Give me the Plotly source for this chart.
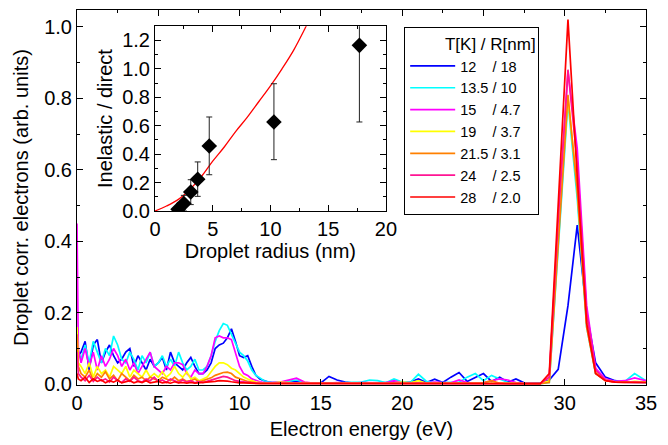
import plotly.graph_objects as go

FONT = "Arial, Liberation Sans, sans-serif"

# ---------------- main spectra (shared energy grid, eV) ----------------
energy = [
    0, 0.08, 0.25, 0.5, 0.75, 1.0, 1.25, 1.5, 1.75, 2.0, 2.25, 2.5, 2.75, 3.0, 3.25, 3.5, 3.75, 4.0, 4.25, 4.5, 4.75,
    5.0, 5.25, 5.5, 5.75, 6.0, 6.25, 6.5, 6.75, 7.0, 7.25, 7.5, 7.75, 8.0, 8.25, 8.5, 8.75, 9.0, 9.25, 9.5, 9.75,
    10.0, 10.25, 10.5, 10.75, 11.0, 11.25, 11.5, 11.75, 12.0,
    12.5, 13.0, 13.5, 14.0, 14.5, 15.0, 15.5, 16.0, 16.5, 17.0, 17.5, 18.0, 18.5, 19.0, 19.5, 20.0,
    20.5, 21.0, 21.5, 22.0, 22.5, 23.0, 23.5, 24.0, 24.5, 25.0, 25.5, 26.0, 26.5, 27.0, 27.5, 28.0,
    28.5, 29.05, 29.6, 30.2, 30.77, 31.35, 31.9, 32.5, 33.1, 33.7, 34.3, 35.0,
]

s_12K = [
    0.07, 0.08, 0.09, 0.12, 0.04, 0.11, 0.125, 0.06, 0.09, 0.11, 0.08, 0.06, 0.07, 0.09, 0.10, 0.05, 0.08, 0.06, 0.04, 0.07, 0.05,
    0.06, 0.075, 0.04, 0.09, 0.06, 0.05, 0.04, 0.06, 0.075, 0.05, 0.03, 0.03, 0.04, 0.06, 0.10, 0.11, 0.115, 0.13, 0.155, 0.12,
    0.08, 0.075, 0.08, 0.05, 0.025, 0.015, 0.01, 0.006, 0.005,
    0.004, 0.005, 0.008, 0.004, 0.003, 0.004, 0.022, 0.012, 0.006, 0.003, 0.004, 0.003, 0.004, 0.005, 0.006, 0.004,
    0.006, 0.015, 0.005, 0.014, 0.005, 0.02, 0.033, 0.008, 0.02, 0.03, 0.008, 0.02, 0.006, 0.015, 0.004, 0.003,
    0.003, 0.012, 0.042, 0.22, 0.445, 0.20, 0.06, 0.02, 0.01, 0.006, 0.006, 0.005,
]
s_13K = [
    0.10, 0.09, 0.07, 0.11, 0.06, 0.12, 0.09, 0.06, 0.10, 0.08, 0.135, 0.11, 0.07, 0.06, 0.09, 0.07, 0.04, 0.08, 0.06, 0.09, 0.05,
    0.06, 0.08, 0.05, 0.07, 0.05, 0.09, 0.06, 0.04, 0.05, 0.07, 0.04, 0.04, 0.05, 0.08, 0.12, 0.15, 0.17, 0.165, 0.14, 0.12,
    0.09, 0.08, 0.065, 0.04, 0.025, 0.018, 0.01, 0.007, 0.005,
    0.005, 0.008, 0.012, 0.005, 0.004, 0.003, 0.004, 0.004, 0.005, 0.004, 0.006, 0.012, 0.01, 0.004, 0.015, 0.006,
    0.005, 0.028, 0.008, 0.004, 0.005, 0.004, 0.006, 0.02, 0.03, 0.01, 0.025, 0.015, 0.005, 0.004, 0.003, 0.003,
    0.002, 0.005, 0.38, 0.79, 0.52, 0.16, 0.03, 0.012, 0.008, 0.008, 0.03, 0.01,
]
s_15K = [
    0.45, 0.10, 0.06, 0.10, 0.05, 0.09, 0.04, 0.08, 0.05, 0.07, 0.10, 0.08, 0.05, 0.07, 0.04, 0.06, 0.03, 0.05, 0.07, 0.09, 0.05,
    0.04, 0.03, 0.05, 0.04, 0.06, 0.06, 0.055, 0.03, 0.02, 0.04, 0.03, 0.03, 0.05, 0.08, 0.13, 0.135, 0.13, 0.13, 0.125, 0.09,
    0.05, 0.03, 0.025, 0.015, 0.01, 0.007, 0.005, 0.004, 0.005,
    0.006, 0.012, 0.017, 0.006, 0.003, 0.004, 0.003, 0.005, 0.004, 0.003, 0.005, 0.004, 0.003, 0.004, 0.01, 0.004,
    0.003, 0.005, 0.004, 0.006, 0.005, 0.004, 0.012, 0.005, 0.004, 0.005, 0.01, 0.015, 0.012, 0.005, 0.003, 0.003,
    0.002, 0.02, 0.45, 0.875, 0.66, 0.22, 0.045, 0.015, 0.008, 0.01, 0.018, 0.01,
]
s_19K = [
    0.16, 0.06, 0.05, 0.03, 0.06, 0.02, 0.05, 0.03, 0.04, 0.02, 0.05, 0.04, 0.03, 0.05, 0.02, 0.04, 0.03, 0.02, 0.04, 0.02, 0.03,
    0.02, 0.035, 0.02, 0.03, 0.05, 0.03, 0.02, 0.035, 0.015, 0.02, 0.01, 0.015, 0.02, 0.035, 0.05, 0.06, 0.06, 0.055, 0.045, 0.04,
    0.03, 0.02, 0.015, 0.01, 0.006, 0.005, 0.004, 0.004, 0.003,
    0.006, 0.004, 0.003, 0.005, 0.003, 0.004, 0.003, 0.003, 0.004, 0.003, 0.003, 0.004, 0.003, 0.003, 0.004, 0.006,
    0.004, 0.01, 0.003, 0.003, 0.004, 0.003, 0.003, 0.004, 0.003, 0.005, 0.004, 0.003, 0.003, 0.003, 0.002, 0.002,
    0.002, 0.01, 0.43, 0.80, 0.55, 0.17, 0.035, 0.012, 0.006, 0.005, 0.008, 0.006,
]
s_21K = [
    0.14, 0.05, 0.03, 0.02, 0.04, 0.01, 0.03, 0.02, 0.035, 0.015, 0.025, 0.01, 0.03, 0.02, 0.01, 0.025, 0.015, 0.02, 0.01, 0.02, 0.015,
    0.01, 0.02, 0.015, 0.01, 0.02, 0.01, 0.015, 0.008, 0.01, 0.015, 0.006, 0.01, 0.012, 0.018, 0.025, 0.03, 0.033, 0.034, 0.03, 0.02,
    0.015, 0.012, 0.008, 0.005, 0.004, 0.003, 0.003, 0.003, 0.002,
    0.003, 0.002, 0.004, 0.002, 0.003, 0.002, 0.003, 0.002, 0.003, 0.002, 0.003, 0.002, 0.003, 0.002, 0.003, 0.002,
    0.003, 0.002, 0.004, 0.002, 0.003, 0.002, 0.003, 0.002, 0.003, 0.004, 0.01, 0.003, 0.002, 0.002, 0.002, 0.002,
    0.002, 0.005, 0.40, 0.81, 0.54, 0.16, 0.03, 0.01, 0.006, 0.005, 0.006, 0.005,
]
s_24K = [
    0.09, 0.03, 0.02, 0.01, 0.025, 0.008, 0.02, 0.01, 0.015, 0.006, 0.02, 0.01, 0.005, 0.015, 0.008, 0.02, 0.01, 0.006, 0.015, 0.01, 0.02,
    0.008, 0.012, 0.005, 0.015, 0.01, 0.005, 0.012, 0.006, 0.01, 0.004, 0.008, 0.005, 0.008, 0.012, 0.016, 0.02, 0.022, 0.02, 0.015, 0.01,
    0.008, 0.006, 0.005, 0.004, 0.003, 0.003, 0.002, 0.002, 0.002,
    0.003, 0.002, 0.003, 0.002, 0.002, 0.003, 0.002, 0.002, 0.003, 0.002, 0.002, 0.003, 0.002, 0.002, 0.003, 0.002,
    0.002, 0.003, 0.002, 0.002, 0.003, 0.002, 0.002, 0.003, 0.002, 0.002, 0.004, 0.002, 0.002, 0.002, 0.002, 0.002,
    0.002, 0.02, 0.46, 0.88, 0.62, 0.20, 0.04, 0.012, 0.006, 0.005, 0.006, 0.005,
]
s_28K = [
    0.03, 0.015, 0.01, 0.02, 0.005, 0.015, 0.008, 0.012, 0.004, 0.01, 0.006, 0.012, 0.004, 0.008, 0.01, 0.004, 0.008, 0.005, 0.01, 0.004, 0.006,
    0.008, 0.004, 0.006, 0.003, 0.007, 0.004, 0.005, 0.003, 0.005, 0.003, 0.004, 0.003, 0.004, 0.006, 0.008, 0.01, 0.01, 0.009, 0.007, 0.005,
    0.004, 0.004, 0.003, 0.003, 0.002, 0.002, 0.002, 0.002, 0.002,
    0.002, 0.002, 0.002, 0.002, 0.002, 0.002, 0.002, 0.002, 0.002, 0.002, 0.002, 0.002, 0.002, 0.002, 0.002, 0.002,
    0.002, 0.002, 0.002, 0.002, 0.002, 0.002, 0.002, 0.002, 0.002, 0.002, 0.003, 0.002, 0.002, 0.002, 0.002, 0.002,
    0.002, 0.03, 0.50, 1.02, 0.58, 0.17, 0.03, 0.01, 0.006, 0.005, 0.005, 0.005,
]

series_names = ["12\u00a0\u00a0\u00a0\u00a0/ 18", "13.5 / 10", "15\u00a0\u00a0\u00a0\u00a0/ 4.7", "19\u00a0\u00a0\u00a0\u00a0/ 3.7",
                "21.5 / 3.1", "24\u00a0\u00a0\u00a0\u00a0/ 2.5", "28\u00a0\u00a0\u00a0\u00a0/ 2.0"]
series_values = [s_12K, s_13K, s_15K, s_19K, s_21K, s_24K, s_28K]
series_colors = ["#0000ff", "#00ffff", "#ff00ff", "#ffff00", "#ff8000", "#ff1493", "#ff0000"]

# ---------------- inset: inelastic / direct ratio vs droplet radius ----------------
radius = [2.0, 2.5, 3.1, 3.7, 4.7, 10.3, 17.7]
ratio = [0.012, 0.052, 0.134, 0.223, 0.457, 0.626, 1.165]
err_up = [0.018, 0.058, 0.086, 0.122, 0.204, 0.269, 0.25]
err_down = [0.012, 0.052, 0.089, 0.12, 0.202, 0.265, 0.539]

fit_r = [0, 1, 2, 3, 4, 5, 6, 7, 8, 9, 10, 11, 12, 13, 13.5]
fit_y = [0, 0.035, 0.08, 0.15, 0.24, 0.35, 0.45, 0.56, 0.66, 0.77, 0.88, 1.0, 1.13, 1.285, 1.37]

fig = go.Figure()
for name, vals, col in zip(series_names, series_values, series_colors):
    fig.add_trace(go.Scatter(x=energy, y=vals, mode="lines", name=name,
                             line=dict(color=col, width=1.7), xaxis="x", yaxis="y"))

fig.add_trace(go.Scatter(x=fit_r, y=fit_y, mode="lines", line=dict(color="#ff0000", width=1.3, shape="spline"),
                         showlegend=False, xaxis="x2", yaxis="y2"))
fig.add_trace(go.Scatter(x=radius, y=ratio, mode="markers",
                         marker=dict(symbol="diamond", size=12, color="black"),
                         error_y=dict(type="data", symmetric=False, array=err_up, arrayminus=err_down,
                                      color="#222222", thickness=1, width=3),
                         showlegend=False, xaxis="x2", yaxis="y2"))

axis_common = dict(showline=True, linecolor="black", linewidth=1, mirror="allticks", ticks="inside",
                   ticklen=6, tickwidth=1, tickcolor="black", showgrid=False, zeroline=False,
                   automargin=False,
                   tickfont=dict(family=FONT, size=20, color="black"),
                   title_font=dict(family=FONT, size=20, color="black"))

# the page body has an 8 px margin, so the figure is shifted by 8 px; margins compensate
fig.update_layout(
    width=660, height=437,
    margin=dict(l=69, r=22, t=2, b=60, autoexpand=False),
    paper_bgcolor="white", plot_bgcolor="white",
    font=dict(family=FONT, size=20, color="black"),
    xaxis=dict(domain=[0, 1], anchor="y", range=[0, 35], tick0=0, dtick=5,
               minor=dict(ticks="inside", ticklen=3, dtick=2.5, tickcolor="black"),
               title=dict(text="Electron energy (eV)", standoff=8), **axis_common),
    yaxis=dict(domain=[0, 1], anchor="x", range=[-0.002, 1.047], tick0=0, dtick=0.2, tickformat=".1f",
               minor=dict(ticks="inside", ticklen=3, dtick=0.1, tickcolor="black"),
               title=dict(text="Droplet corr. electrons (arb. units)", standoff=10), **axis_common),
    xaxis2=dict(domain=[0.137, 0.543], anchor="y2", range=[0, 20], tick0=0, dtick=5,
                minor=dict(ticks="inside", ticklen=3, dtick=2.5, tickcolor="black"),
                title=dict(text="Droplet radius (nm)", standoff=4), **axis_common),
    yaxis2=dict(domain=[0.464, 0.957], anchor="x2", range=[0, 1.3], tick0=0, dtick=0.2, tickformat=".1f",
                minor=dict(ticks="inside", ticklen=3, dtick=0.1, tickcolor="black"),
                title=dict(text="Inelastic / direct", standoff=4), **axis_common),
    legend=dict(x=0.575, y=0.955, xanchor="left", yanchor="top",
                bordercolor="black", borderwidth=1, bgcolor="white",
                font=dict(family=FONT, size=14.5, color="black"),
                title=dict(text="\u00a0\u00a0\u00a0\u00a0\u00a0\u00a0\u00a0\u00a0T[K] / R[nm]", font=dict(family=FONT, size=17)),
                tracegroupgap=0, itemwidth=45),
)

fig.write_html("out.html")
